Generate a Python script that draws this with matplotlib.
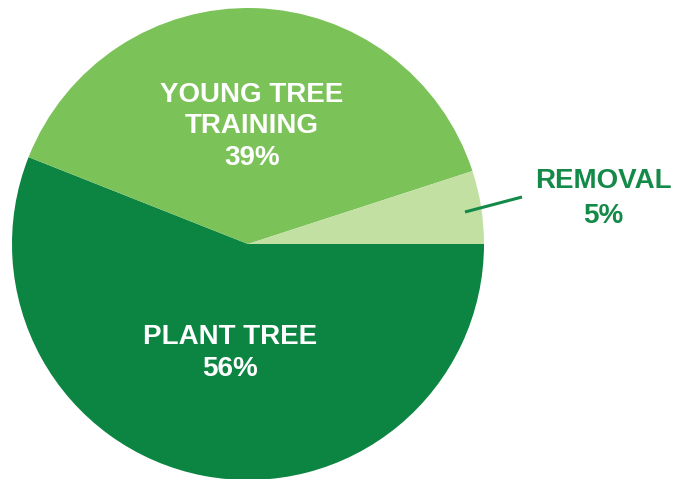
import matplotlib.pyplot as plt

categories = ["PLANT TREE", "YOUNG TREE\nTRAINING", "REMOVAL"]
shares = [56, 39, 5]
colors = ["#0c8442", "#7bc258", "#c3e0a3"]

W, H = 675, 479
fig = plt.figure(figsize=(W / 100, H / 100), dpi=100)
ax = fig.add_axes([0, 0, 1, 1])

# pie in pixel units, centre (248, 244) from top
ax.pie(shares, colors=colors, startangle=0, counterclock=False,
       center=(248, H - 244), radius=236, frame=True,
       wedgeprops=dict(linewidth=0))
ax.set_xlim(0, W)
ax.set_ylim(0, H)
ax.set_aspect("equal")
ax.axis("off")

font = dict(family="Liberation Sans", fontweight="bold", fontsize=20,
            ha="center", va="baseline")

def label(lines, x, baselines, color):
    for txt, yb in zip(lines, baselines):
        ax.text(x, H - yb, txt, color=color, **font)

label(["YOUNG TREE", "TRAINING", f"{shares[1]}%"], 252, [102, 133, 165], "white")
label(["PLANT TREE", f"{shares[0]}%"], 230, [344, 376], "white")
label(["REMOVAL", f"{shares[2]}%"], 603, [188, 223], "#138a47")

ax.plot([465, 522], [H - 212, H - 197], color="#138a47", lw=2.2,
        solid_capstyle="butt")

fig.savefig("out.png", dpi=100)
